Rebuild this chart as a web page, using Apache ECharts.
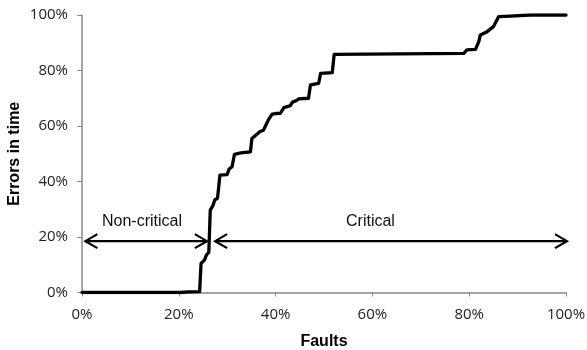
<!DOCTYPE html>
<html>
<head>
<meta charset="utf-8">
<script src="https://cdn.jsdelivr.net/npm/echarts@6/dist/echarts.min.js"></script>
<style>
    html, body { margin: 0; padding: 0; background: #fff; }
    #chart { width: 587px; height: 350px; }
</style>
</head>
<body>
<div id="chart"></div>
<script>
    // cumulative curve (percent)
    const faultPct = [0, 20.3, 22, 24.3, 24.6, 25.3, 25.7, 26.2, 26.5, 27.1, 27.4, 28.0, 28.5, 30.0, 30.4, 31.0, 31.5, 32.8, 34.8, 35.1, 35.5,
        36.8, 37.5, 37.9, 38.6, 39.3, 40.0, 41.0, 41.7, 43.0, 43.5, 44.1, 44.8, 46.8, 47.2, 47.5, 48.9, 49.3, 49.6, 51.7, 52.1, 52.5,
        78.9, 79.5, 81.3, 82.0, 82.3, 83.7, 85.0, 85.5, 86.1, 88.5, 92.6, 100];
    const errorPct = [0, 0, 0.2, 0.3, 10.5, 11.7, 13.5, 14.5, 29.7, 31.5, 33.3, 34, 42.3, 42.5, 44.5, 45.3, 49.8, 50.3, 50.7, 55.5, 56.1,
        58, 58.5, 60, 62.5, 64.3, 64.5, 64.6, 66.6, 67.3, 68.6, 69, 69.8, 70, 74.8, 75.2, 75.4, 79, 79.2, 79.2, 85.8, 86.2,
        86.2, 87.4, 87.6, 90.5, 92.8, 94, 95.8, 97.5, 99.4, 99.6, 100, 100];
    const yTicks = [0, 20, 40, 60, 80, 100];

    // annotation arrows: [from, to, at y, label x, label y]
    const arrowLabels = ['Non-critical', 'Critical'];
    const arrowSpans = [
        [0.7, 25.8, 18.5, 12.4, 25.5],
        [27.5, 100.2, 18.5, 59.6, 25.5]
    ];

    const curve = faultPct.map((x, i) => [x, errorPct[i]]);

    const myChart = echarts.init(document.getElementById('chart'));
    myChart.setOption({
        animation: false,
        grid: { left: 82, right: 21, top: 15, bottom: 57.5, outerBoundsMode: 'none' },
        xAxis: {
            type: 'value',
            min: 0, max: 100, interval: 20,
            name: 'Faults',
            nameLocation: 'middle',
            nameGap: 41,
            nameMoveOverlap: false,
            nameTextStyle: { fontFamily: 'Liberation Sans', fontWeight: 'bold', fontSize: 16, color: '#000' },
            axisLine: { lineStyle: { color: '#888', width: 1.5 } },
            axisTick: { show: true, length: 4, lineStyle: { color: '#888' } },
            axisLabel: { formatter: '{value}%', margin: 15, fontFamily: 'Open Sans', fontSize: 15, color: '#222' },
            splitLine: { show: false }
        },
        yAxis: {
            type: 'value',
            min: 0, max: 100, interval: 20,
            name: 'Errors in time',
            nameLocation: 'middle',
            nameGap: 59,
            nameMoveOverlap: false,
            nameTextStyle: { fontFamily: 'Liberation Sans', fontWeight: 'bold', fontSize: 16, color: '#000' },
            axisLine: { show: true, lineStyle: { color: '#888', width: 1.5 } },
            axisTick: { show: true, length: 5, lineStyle: { color: '#888' } },
            axisLabel: {
                formatter: v => yTicks.includes(v) ? v + '%' : '',
                margin: 14, fontFamily: 'Open Sans', fontSize: 15, color: '#222'
            },
            splitLine: { show: false }
        },
        series: [
            {
                type: 'line',
                data: curve,
                symbol: 'none',
                lineStyle: { color: '#000', width: 3.3, join: 'round', cap: 'round' },
                z: 3
            },
            {
                type: 'custom',
                data: arrowSpans,
                clip: false,
                z: 4,
                renderItem: function (params, api) {
                    const y = api.value(2);
                    const p1 = api.coord([api.value(0), y]);
                    const p2 = api.coord([api.value(1), y]);
                    const lp = api.coord([api.value(3), api.value(4)]);
                    const st = { stroke: '#000', lineWidth: 2.2, fill: null };
                    return {
                        type: 'group',
                        children: [
                            { type: 'line', shape: { x1: p1[0], y1: p1[1], x2: p2[0], y2: p2[1] }, style: st },
                            { type: 'polyline', shape: { points: [[p1[0] + 12, p1[1] - 7], [p1[0], p1[1]], [p1[0] + 12, p1[1] + 7]] }, style: st },
                            { type: 'polyline', shape: { points: [[p2[0] - 12, p2[1] - 7], [p2[0], p2[1]], [p2[0] - 12, p2[1] + 7]] }, style: st },
                            {
                                type: 'text',
                                x: lp[0], y: lp[1],
                                style: {
                                    text: arrowLabels[params.dataIndex],
                                    fontFamily: 'Liberation Sans', fontSize: 16, fill: '#111',
                                    align: 'center', verticalAlign: 'middle'
                                }
                            }
                        ]
                    };
                }
            }
        ]
    });
</script>
</body>
</html>
